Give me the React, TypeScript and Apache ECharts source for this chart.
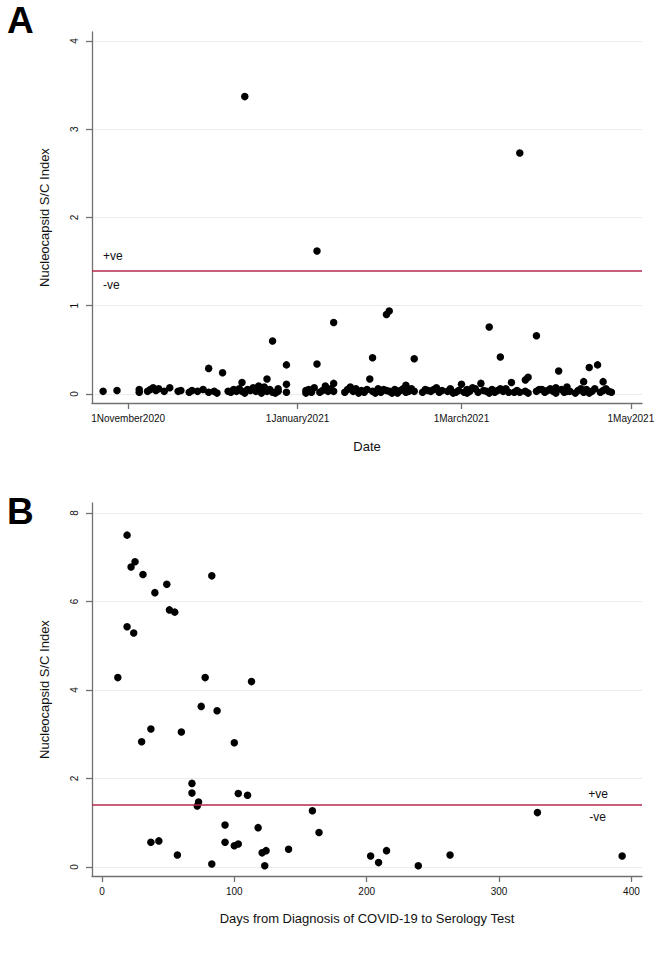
import React, { useEffect, useRef } from "react";
import * as echarts from "echarts";

// Panel A: test date vs nucleocapsid S/C index
const aDates: string[] = [
  "2020-10-23", "2020-10-28",
  "2020-11-05", "2020-11-05", "2020-11-08", "2020-11-09", "2020-11-10", "2020-11-11", "2020-11-12",
  "2020-11-14", "2020-11-16", "2020-11-19", "2020-11-20", "2020-11-23", "2020-11-24", "2020-11-26",
  "2020-11-28", "2020-11-30", "2020-11-30",
  "2020-12-02", "2020-12-03", "2020-12-05", "2020-12-07", "2020-12-08", "2020-12-09", "2020-12-10",
  "2020-12-11", "2020-12-12", "2020-12-12", "2020-12-13", "2020-12-13", "2020-12-14", "2020-12-15",
  "2020-12-16", "2020-12-17", "2020-12-18", "2020-12-19", "2020-12-19", "2020-12-20", "2020-12-21",
  "2020-12-21", "2020-12-22", "2020-12-23", "2020-12-23", "2020-12-24", "2020-12-25", "2020-12-25",
  "2020-12-28", "2020-12-28", "2020-12-28",
  "2021-01-04", "2021-01-04", "2021-01-05", "2021-01-06", "2021-01-07", "2021-01-08", "2021-01-08",
  "2021-01-09", "2021-01-10", "2021-01-11", "2021-01-12", "2021-01-13", "2021-01-14", "2021-01-14",
  "2021-01-14", "2021-01-18", "2021-01-19", "2021-01-20", "2021-01-21", "2021-01-22", "2021-01-23",
  "2021-01-24", "2021-01-25", "2021-01-26", "2021-01-27", "2021-01-28", "2021-01-28", "2021-01-29",
  "2021-01-30", "2021-01-31",
  "2021-02-01", "2021-02-02", "2021-02-02", "2021-02-03", "2021-02-03", "2021-02-04", "2021-02-05",
  "2021-02-06", "2021-02-07", "2021-02-08", "2021-02-09", "2021-02-09", "2021-02-10", "2021-02-11",
  "2021-02-12", "2021-02-12", "2021-02-15", "2021-02-16", "2021-02-17", "2021-02-18", "2021-02-19",
  "2021-02-20", "2021-02-21", "2021-02-22", "2021-02-24", "2021-02-25", "2021-02-26", "2021-02-27",
  "2021-02-28",
  "2021-03-01", "2021-03-02", "2021-03-03", "2021-03-03", "2021-03-04", "2021-03-05", "2021-03-06",
  "2021-03-07", "2021-03-08", "2021-03-09", "2021-03-10", "2021-03-11", "2021-03-11", "2021-03-12",
  "2021-03-13", "2021-03-14", "2021-03-15", "2021-03-15", "2021-03-16", "2021-03-17", "2021-03-18",
  "2021-03-19", "2021-03-20", "2021-03-21", "2021-03-22", "2021-03-22", "2021-03-24", "2021-03-24",
  "2021-03-25", "2021-03-25", "2021-03-28", "2021-03-28", "2021-03-29", "2021-03-30", "2021-03-31",
  "2021-04-01", "2021-04-02", "2021-04-03", "2021-04-04", "2021-04-04", "2021-04-05", "2021-04-06",
  "2021-04-07", "2021-04-08", "2021-04-08", "2021-04-09", "2021-04-11", "2021-04-12", "2021-04-13",
  "2021-04-14", "2021-04-14", "2021-04-15", "2021-04-16", "2021-04-16", "2021-04-17", "2021-04-18",
  "2021-04-19", "2021-04-20", "2021-04-21", "2021-04-21", "2021-04-22", "2021-04-23", "2021-04-24",
];
const aValues: number[] = [
  0.03, 0.04,
  0.02, 0.05, 0.03, 0.05, 0.07, 0.04, 0.06,
  0.03, 0.07, 0.03, 0.04, 0.02, 0.04, 0.03,
  0.05, 0.02, 0.29,
  0.03, 0.01, 0.24, 0.03, 0.02, 0.05, 0.03,
  0.06, 0.13, 0.03, 0.01, 3.37, 0.05, 0.04,
  0.07, 0.03, 0.09, 0.05, 0.01, 0.08, 0.17,
  0.03, 0.05, 0.6, 0.02, 0.01, 0.06, 0.03,
  0.11, 0.02, 0.33,
  0.01, 0.04, 0.05, 0.02, 0.07, 0.34, 1.62,
  0.02, 0.04, 0.09, 0.03, 0.06, 0.81, 0.12,
  0.03, 0.02, 0.05, 0.08, 0.03, 0.06, 0.01,
  0.04, 0.02, 0.05, 0.17, 0.41, 0.03, 0.01,
  0.06, 0.02,
  0.05, 0.04, 0.9, 0.94, 0.03, 0.01, 0.05,
  0.01, 0.04, 0.06, 0.02, 0.1, 0.03, 0.06,
  0.4, 0.03, 0.02, 0.05, 0.04, 0.03, 0.05,
  0.07, 0.02, 0.04, 0.03, 0.06, 0.01, 0.02,
  0.04,
  0.11, 0.02, 0.05, 0.01, 0.03, 0.07, 0.06,
  0.02, 0.12, 0.04, 0.03, 0.76, 0.01, 0.05,
  0.02, 0.04, 0.42, 0.06, 0.03, 0.06, 0.02,
  0.13, 0.02, 0.04, 2.73, 0.02, 0.16, 0.03,
  0.19, 0.01, 0.03, 0.66, 0.05, 0.05, 0.02,
  0.04, 0.06, 0.03, 0.07, 0.01, 0.26, 0.05,
  0.02, 0.08, 0.03, 0.03, 0.01, 0.04, 0.06,
  0.02, 0.14, 0.05, 0.3, 0.01, 0.03, 0.06,
  0.33, 0.02, 0.14, 0.04, 0.06, 0.03, 0.02,
];

// Panel B: days from diagnosis vs nucleocapsid S/C index
const bDays: number[] = [
  19, 22, 25, 31, 40, 49, 83, 51, 55, 19, 24, 12, 78, 113, 75, 87, 37, 60, 30, 100,
  68, 68, 73, 72, 103, 110, 159, 93, 118, 164, 37, 43, 93, 100, 103, 57, 121, 124, 141, 83,
  123, 203, 209, 215, 239, 263, 329, 393,
];
const bValues: number[] = [
  7.5, 6.78, 6.9, 6.61, 6.2, 6.39, 6.58, 5.81, 5.76, 5.43, 5.29, 4.28, 4.28, 4.19, 3.63, 3.53, 3.12, 3.05, 2.83, 2.81,
  1.89, 1.67, 1.47, 1.38, 1.66, 1.62, 1.27, 0.95, 0.89, 0.78, 0.56, 0.59, 0.56, 0.48, 0.52, 0.27, 0.32, 0.37, 0.4, 0.07,
  0.03, 0.25, 0.1, 0.37, 0.03, 0.27, 1.23, 0.25,
];

const aXTickDates: string[] = ["2020-11-01", "2021-01-01", "2021-03-01", "2021-05-01"];
const aXRange: string[] = ["2020-10-19", "2021-05-05"];
const aYTicks: number[] = [0, 1, 2, 3, 4];
const bXTicks: number[] = [0, 100, 200, 300, 400];
const bYTicks: number[] = [0, 2, 4, 6, 8];
const threshold = 1.4;
const monthNames: string[] = [
  "January", "February", "March", "April", "May", "June",
  "July", "August", "September", "October", "November", "December",
];

const DAY_MS = 86400000;
// date string -> day number (UTC days since epoch)
function toDay(s: string): number {
  const [y, m, d] = s.split("-").map(Number);
  return Date.UTC(y, m - 1, d) / DAY_MS;
}
function dayLabel(v: number): string {
  const dt = new Date(Math.round(v) * DAY_MS);
  return `${dt.getUTCDate()}${monthNames[dt.getUTCMonth()]}${dt.getUTCFullYear()}`;
}

const FONT = "'Liberation Sans', Arial, sans-serif";
const AXIS_COLOR = "#707070";
const TEXT_COLOR = "#111111";
const GRID_COLOR = "#e9edef";
const LINE_COLOR = "#b52a4b";

const axisLineStyle = { show: true, onZero: false, lineStyle: { color: AXIS_COLOR, width: 1.3 } };
const nameStyle = { fontFamily: FONT, fontSize: 13, color: TEXT_COLOR };

function tickCfg(values: number[]) {
  return { show: true, length: 6, lineStyle: { color: AXIS_COLOR, width: 1.3 }, customValues: values };
}

function thresholdMarkLine(atEnd: boolean) {
  const labelBase = {
    show: true,
    fontFamily: FONT,
    fontSize: 12,
    color: TEXT_COLOR,
  };
  return {
    silent: true,
    symbol: "none",
    animation: false,
    lineStyle: { color: LINE_COLOR, width: 1.5, type: "solid" },
    data: [
      {
        yAxis: threshold,
        label: {
          ...labelBase,
          formatter: "+ve",
          position: atEnd ? "insideEndTop" : "insideStartTop",
          distance: atEnd ? [34, 5] : [11, 8],
        },
      },
      {
        yAxis: threshold,
        lineStyle: { color: "rgba(0,0,0,0)", width: 1.5 },
        label: {
          ...labelBase,
          formatter: "-ve",
          position: atEnd ? "insideEndBottom" : "insideStartBottom",
          distance: atEnd ? [36, 6] : [11, 9],
        },
      },
    ],
  };
}

export default function App() {
  const ref = useRef<HTMLDivElement>(null);

  useEffect(() => {
    if (!ref.current) return;
    const chart = echarts.init(ref.current, undefined, { renderer: "svg" });

    const aData = aDates.map((d, i) => [toDay(d), aValues[i]]);
    const bData = bDays.map((d, i) => [d, bValues[i]]);
    const aXTicks = aXTickDates.map(toDay);

    chart.setOption({
      animation: false,
      backgroundColor: "#ffffff",
      textStyle: { fontFamily: FONT },
      grid: [
        { left: 92, right: 18, top: 32, height: 371 },
        { left: 92, right: 18, top: 503, height: 373 },
      ],
      xAxis: [
        {
          type: "value",
          gridIndex: 0,
          min: toDay(aXRange[0]),
          max: toDay(aXRange[1]),
          name: "Date",
          nameLocation: "middle",
          nameGap: 37,
          nameTextStyle: nameStyle,
          axisLine: axisLineStyle,
          splitLine: { show: false },
          axisTick: tickCfg(aXTicks),
          axisLabel: {
            fontFamily: FONT,
            fontSize: 10,
            color: TEXT_COLOR,
            margin: 10,
            customValues: aXTicks,
            formatter: (v: number) => dayLabel(v),
          },
        },
        {
          type: "value",
          gridIndex: 1,
          min: -7.5,
          max: 408,
          name: "Days from Diagnosis of COVID-19 to Serology Test",
          nameLocation: "middle",
          nameGap: 36,
          nameTextStyle: nameStyle,
          axisLine: axisLineStyle,
          splitLine: { show: false },
          axisTick: tickCfg(bXTicks),
          axisLabel: {
            fontFamily: FONT,
            fontSize: 10,
            color: TEXT_COLOR,
            margin: 10,
            customValues: bXTicks,
          },
        },
      ],
      yAxis: [
        {
          type: "value",
          gridIndex: 0,
          min: -0.102,
          max: 4.102,
          name: "Nucleocapsid S/C Index",
          nameLocation: "middle",
          nameGap: 41,
          nameTextStyle: nameStyle,
          axisLine: axisLineStyle,
          splitLine: { show: true, lineStyle: { color: GRID_COLOR, width: 1.2 } },
          axisTick: tickCfg(aYTicks),
          axisLabel: {
            fontFamily: FONT,
            fontSize: 10,
            color: TEXT_COLOR,
            margin: 13,
            rotate: 90,
            customValues: aYTicks,
          },
        },
        {
          type: "value",
          gridIndex: 1,
          min: -0.203,
          max: 8.226,
          name: "Nucleocapsid S/C Index",
          nameLocation: "middle",
          nameGap: 41,
          nameTextStyle: nameStyle,
          axisLine: axisLineStyle,
          splitLine: { show: true, lineStyle: { color: GRID_COLOR, width: 1.2 } },
          axisTick: tickCfg(bYTicks),
          axisLabel: {
            fontFamily: FONT,
            fontSize: 10,
            color: TEXT_COLOR,
            margin: 13,
            rotate: 90,
            customValues: bYTicks,
          },
        },
      ],
      series: [
        {
          type: "scatter",
          xAxisIndex: 0,
          yAxisIndex: 0,
          data: aData,
          symbol: "circle",
          symbolSize: 7.5,
          itemStyle: { color: "#000000", opacity: 1 },
          silent: true,
          markLine: thresholdMarkLine(false),
        },
        {
          type: "scatter",
          xAxisIndex: 1,
          yAxisIndex: 1,
          data: bData,
          symbol: "circle",
          symbolSize: 7.5,
          itemStyle: { color: "#000000", opacity: 1 },
          silent: true,
          markLine: thresholdMarkLine(true),
        },
      ],
      graphic: [
        {
          type: "text",
          left: 7,
          top: 2,
          style: { text: "A", fontFamily: FONT, fontWeight: "bold", fontSize: 37, fill: "#000" },
        },
        {
          type: "text",
          left: 7,
          top: 493,
          style: { text: "B", fontFamily: FONT, fontWeight: "bold", fontSize: 37, fill: "#000" },
        },
      ],
    });

    return () => {
      chart.dispose();
    };
  }, []);

  return (
    <div
      ref={ref}
      style={{ position: "absolute", left: 0, top: 0, width: 660, height: 967, background: "#fff" }}
    />
  );
}
